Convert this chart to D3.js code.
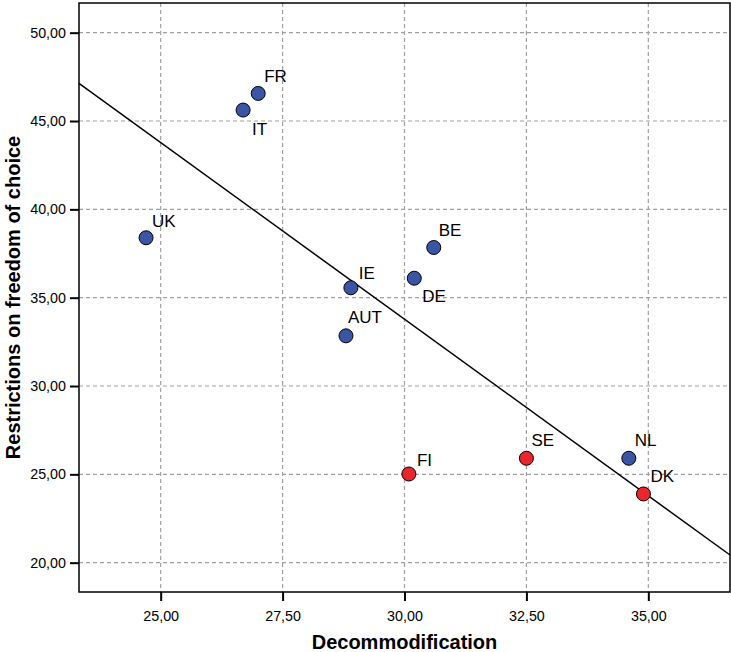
<!DOCTYPE html>
<html><head><meta charset="utf-8">
<script src="https://cdn.jsdelivr.net/npm/d3@7"></script>
<style>body{margin:0;background:#fff}svg{display:block}</style>
</head><body>
<script>
const countries = ["UK","FR","IT","IE","DE","BE","AUT","FI","SE","NL","DK"];
const decommodification = [24.70,27.00,26.69,28.90,30.20,30.60,28.80,30.09,32.50,34.60,34.90];
const restrictions = [38.39,46.56,45.62,35.56,36.10,37.84,32.84,25.02,25.91,25.91,23.89];
const group = ["b","b","b","b","b","b","b","r","r","b","r"];
const xTicks = [25,27.5,30,32.5,35];
const yTicks = [20,25,30,35,40,45,50];

// label placement relative to its point (pixels) — layout config
const labelOffset = {UK:[6,-11],FR:[6,-11],IT:[9,25],IE:[8,-9],DE:[8,24],BE:[5,-12],
  AUT:[2,-13],FI:[8,-8],SE:[5,-12],NL:[6,-12],DK:[7,-12]};

const W=731,H=652;
const svg=d3.select("body").append("svg").attr("width",W).attr("height",H);
const L=79,R=730,T=3,B=592;
const x=d3.scaleLinear().domain([23.325,36.675]).range([L,R]);
const y=d3.scaleLinear().domain([18.34,51.68]).range([B,T]);
const fmt=d=>d3.format(".2f")(d).replace(".",",");
const FF="Liberation Sans, Arial, sans-serif";

const g=svg.append("g");
// grid
g.selectAll(".gx").data(xTicks).enter().append("line")
 .attr("x1",d=>x(d)).attr("x2",d=>x(d)).attr("y1",T).attr("y2",B)
 .attr("stroke","#a0a0a0").attr("stroke-dasharray","4,3").attr("stroke-width",1.2);
g.selectAll(".gy").data(yTicks).enter().append("line")
 .attr("y1",d=>y(d)).attr("y2",d=>y(d)).attr("x1",L).attr("x2",R)
 .attr("stroke","#a0a0a0").attr("stroke-dasharray","4,3").attr("stroke-width",1.2);

// axes
const xAxis=svg.append("g").attr("transform",`translate(0,${B})`)
 .call(d3.axisBottom(x).tickValues(xTicks).tickFormat(fmt).tickSize(9).tickSizeOuter(0));
const yAxis=svg.append("g").attr("transform",`translate(${L},0)`)
 .call(d3.axisLeft(y).tickValues(yTicks).tickFormat(fmt).tickSize(9).tickSizeOuter(0));
[xAxis,yAxis].forEach(a=>{
 a.select(".domain").remove();
 a.selectAll(".tick line").attr("stroke","#000").attr("stroke-width",2);
 a.selectAll(".tick text").attr("font-family",FF).attr("font-size",14.3).attr("fill","#000");
});
xAxis.selectAll(".tick text").attr("dy","0").attr("y",29);
yAxis.selectAll(".tick text").attr("x",-13);

// frame
svg.append("rect").attr("x",L).attr("y",T).attr("width",R-L).attr("height",B-T)
 .attr("fill","none").attr("stroke","#000").attr("stroke-width",1.5);

// regression line (OLS fit of the data)
const n=countries.length;
const mx=d3.mean(decommodification), my=d3.mean(restrictions);
let sxy=0,sxx=0;
for(let i=0;i<n;i++){sxy+=(decommodification[i]-mx)*(restrictions[i]-my);sxx+=(decommodification[i]-mx)**2;}
const slope=sxy/sxx, icpt=my-slope*mx;
const xd=x.domain();
svg.append("line").attr("x1",x(xd[0])).attr("y1",y(icpt+slope*xd[0]))
 .attr("x2",x(xd[1])).attr("y2",y(icpt+slope*xd[1]))
 .attr("stroke","#000").attr("stroke-width",1.5);

// points
const data=countries.map((c,i)=>({c,x:decommodification[i],y:restrictions[i],g:group[i]}));
svg.selectAll("circle.pt").data(data).enter().append("circle")
 .attr("cx",d=>x(d.x)).attr("cy",d=>y(d.y)).attr("r",7)
 .attr("fill",d=>d.g==="r"?"#e8262b":"#3a55a4").attr("stroke","#000").attr("stroke-width",1);

// labels
svg.selectAll("text.lbl").data(data).enter().append("text")
 .attr("x",d=>x(d.x)+labelOffset[d.c][0])
 .attr("y",d=>y(d.y)+labelOffset[d.c][1])
 .attr("font-family",FF).attr("font-size",17).attr("fill","#000")
 .text(d=>d.c);

// titles
svg.append("text").attr("x",(L+R)/2).attr("y",649).attr("text-anchor","middle")
 .attr("font-family",FF).attr("font-size",20).attr("font-weight","bold")
 .text("Decommodification");
svg.append("text").attr("transform",`translate(20,${(T+B)/2}) rotate(-90)`).attr("text-anchor","middle")
 .attr("font-family",FF).attr("font-size",20).attr("font-weight","bold")
 .text("Restrictions on freedom of choice");
</script>
</body></html>
